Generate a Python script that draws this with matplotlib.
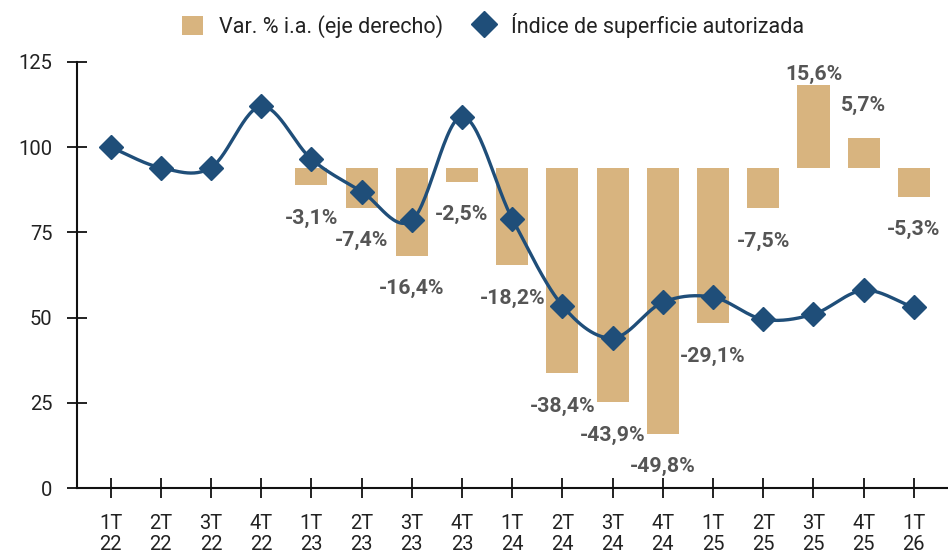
import numpy as np
import matplotlib
matplotlib.use("Agg")
import matplotlib.pyplot as plt
import matplotlib.patches as mpatches
from matplotlib.lines import Line2D

plt.rcParams.update({
    "font.family": ["Roboto", "DejaVu Sans"],
    "font.size": 14,
})

# ── Data ──────────────────────────────────────────────────────────────────────
quarters = ["1T\n22", "2T\n22", "3T\n22", "4T\n22",
            "1T\n23", "2T\n23", "3T\n23", "4T\n23",
            "1T\n24", "2T\n24", "3T\n24", "4T\n24",
            "1T\n25", "2T\n25", "3T\n25", "4T\n25",
            "1T\n26"]
indice = [100, 94, 94, 112, 96.5, 87, 78.5, 109, 79, 53.5, 44, 54.5,
          56, 49.5, 51, 58, 53]
# year-on-year change starts at 1T 23
var_ia = [None, None, None, None, -3.1, -7.4, -16.4, -2.5, -18.2, -38.4,
          -43.9, -49.8, -29.1, -7.5, 15.6, 5.7, -5.3]

BAR_COLOR = "#D8B47F"
LINE_COLOR = "#1F4E79"
LABEL_COLOR = "#555555"


def catmull_rom(x, y, n=30):
    """Smooth curve through the points (for the drawn line only)."""
    x = np.asarray(x, float)
    y = np.asarray(y, float)
    xp = np.concatenate([[2 * x[0] - x[1]], x, [2 * x[-1] - x[-2]]])
    yp = np.concatenate([[2 * y[0] - y[1]], y, [2 * y[-1] - y[-2]]])
    xs, ys = [], []
    t = np.linspace(0, 1, n, endpoint=False)
    for i in range(1, len(xp) - 2):
        p0, p1, p2, p3 = yp[i - 1], yp[i], yp[i + 1], yp[i + 2]
        m1 = (p2 - p0) / 2
        m2 = (p3 - p1) / 2
        h00 = 2 * t**3 - 3 * t**2 + 1
        h10 = t**3 - 2 * t**2 + t
        h01 = -2 * t**3 + 3 * t**2
        h11 = t**3 - t**2
        ys.append(h00 * p1 + h10 * m1 + h01 * p2 + h11 * m2)
        xs.append(xp[i] + t * (xp[i + 1] - xp[i]))
    xs.append([x[-1]])
    ys.append([y[-1]])
    return np.concatenate(xs), np.concatenate(ys)


fig = plt.figure(figsize=(9.48, 5.53), dpi=100)
ax2 = fig.add_axes([0.0809, 0.1175, 0.9191, 0.7704])
ax = fig.add_axes([0.0809, 0.1175, 0.9191, 0.7704], sharex=ax2)
ax.set_zorder(ax2.get_zorder() + 1)
ax.patch.set_visible(False)

xpos = np.arange(len(quarters))

# ── Bars (right axis, hidden) ─────────────────────────────────────────────────
bx = [i for i, v in enumerate(var_ia) if v is not None]
bv = [v for v in var_ia if v is not None]
ax2.bar(bx, bv, width=0.64, color=BAR_COLOR, zorder=2)
ax2.set_ylim(-60, 20)
ax2.axis("off")

for xi, v in zip(bx, bv):
    label = f"{v:.1f}%".replace(".", ",")
    if v < 0:
        ty = v - 6.2
    else:
        ty = min(v + 6.2, 17.6)
    ax2.text(xi, ty, label, ha="center", va="center", fontsize=15.3,
             fontweight="bold", color=LABEL_COLOR, zorder=3)

# ── Line (left axis) ──────────────────────────────────────────────────────────
sx, sy = catmull_rom(xpos, indice)
ax.plot(sx, sy, color=LINE_COLOR, lw=2.4, zorder=4)
ax.plot(xpos, indice, ls="none", marker="D", ms=12.5, color=LINE_COLOR, zorder=5)

ax.set_ylim(0, 125)
ax.set_xlim(-0.675, 16.68)
ax.set_yticks([0, 25, 50, 75, 100, 125])
ax.set_xticks(xpos)
ax.set_xticklabels(quarters, linespacing=1.15)

for side in ("top", "right"):
    ax.spines[side].set_visible(False)
for side in ("left", "bottom"):
    ax.spines[side].set_linewidth(1.5)
    ax.spines[side].set_color("#111111")

ax.tick_params(axis="both", direction="inout", length=15, width=1.3,
               colors="#111111", labelsize=14.5, labelcolor="#222222")
ax.tick_params(axis="x", pad=11)
ax.tick_params(axis="y", pad=10)

# ── Legend ────────────────────────────────────────────────────────────────────
handles = [
    mpatches.Patch(facecolor=BAR_COLOR, label="Var. % i.a. (eje derecho)"),
    Line2D([], [], ls="none", marker="D", ms=13, color=LINE_COLOR,
           label="Índice de superficie autorizada"),
]
fig.legend(handles=handles, loc="upper center", bbox_to_anchor=(0.52, 1.012),
           ncol=2, frameon=False, fontsize=15.5, handlelength=1.0,
           handleheight=1.0, columnspacing=1.4, handletextpad=0.75,
           labelcolor="#222222")

fig.savefig("out.png", dpi=100)
